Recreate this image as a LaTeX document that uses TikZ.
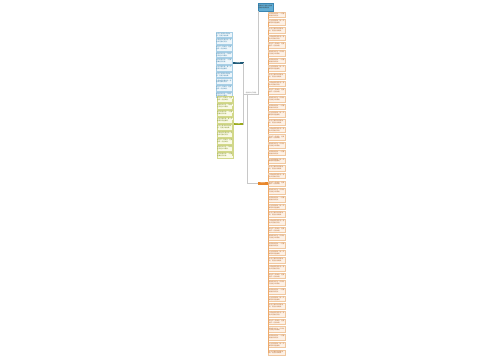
\documentclass[tikz,border=0pt]{standalone}
\usepackage{fontspec}
\newfontfamily\cjk{Noto Sans CJK SC}
\XeTeXlinebreaklocale "zh"
\XeTeXlinebreakskip=0pt plus 0.2pt
\definecolor{rootfill}{HTML}{62ADD4}
\definecolor{rootdraw}{HTML}{3A86B2}
\definecolor{bnode}{HTML}{1F5A78}
\definecolor{bfill}{HTML}{EEF6FB}
\definecolor{bdraw}{HTML}{A8CFE6}
\definecolor{btext}{HTML}{3B7EA6}
\definecolor{gnode}{HTML}{9AAA1A}
\definecolor{gfill}{HTML}{FAFAE6}
\definecolor{gdraw}{HTML}{D2D88A}
\definecolor{gtext}{HTML}{7A8A20}
\definecolor{onode}{HTML}{E8862A}
\definecolor{ofill}{HTML}{FDF1E6}
\definecolor{odraw}{HTML}{F0C8A0}
\definecolor{otext}{HTML}{B8682A}
\definecolor{link}{HTML}{C8C8C8}
\newcommand{\lt}[1]{\ifcase#1 人生没有彩排，每一天都是现场直播啊。\or 生活不是等待风暴过去，而是学会跳舞。\or 心若向阳无畏悲伤，愿你岁月静好安然。\or 努力不一定成功，但是放弃一定会失败。\or 愿你走出半生，归来时仍然是少年模样。\or 时间会告诉你，一切都是最好的安排。\fi}
\begin{document}
\begin{tikzpicture}[x=1pt,y=-1pt,
  every node/.style={font=\cjk\fontsize{1.5}{1.9}\selectfont, inner sep=0.5pt, outer sep=0pt},
  leaf/.style={draw, line width=0.25pt, text width=15.5pt, minimum height=5.6pt, align=left},
  bleaf/.style={leaf, fill=bfill, draw=bdraw, text=btext, anchor=east},
  gleaf/.style={leaf, fill=gfill, draw=gdraw, text=gtext, anchor=east, text width=15pt},
  oleaf/.style={leaf, fill=ofill, draw=odraw, text=otext, anchor=west},
  bar/.style={minimum height=2.2pt, inner sep=0.3pt, text=white, font=\cjk\fontsize{1.2}{1.4}\selectfont},
  blink/.style={draw=bdraw, line width=0.35pt},
  glink/.style={draw=gdraw, line width=0.35pt},
  olink/.style={draw=onode!70, line width=0.6pt},
  mlink/.style={draw=link, line width=0.3pt}]
\useasboundingbox (0,0) rectangle (500,360);
% root
\node[draw=rootdraw, fill=rootfill, line width=0.3pt, text width=14pt, align=left, minimum height=8pt, text=black!80] (root) at (265.5,7) {经典句子语录大全精选摘抄经典语录};
% center
\node[text=black!55, minimum width=13pt, inner sep=0.4pt] (c) at (251,92.6) {经典的句子精选};
\draw[mlink] (c.south west) -- (c.south east);
% branch nodes
\node[bar, fill=bnode, minimum width=11pt] (bn) at (238,63) {经典语录};
\node[bar, fill=gnode, minimum width=11pt] (gn) at (238,124) {句子摘抄};
\node[bar, fill=onode, minimum width=10pt] (on) at (263,183.5) {精选句子};
% main links
\draw[mlink] (c.south east) -| ([xshift=0.6pt]root.south west);
\draw[mlink] (c.south west) -- ++(-1.2,0) |- (bn.east);
\draw[mlink] (c.south west) -- ++(-1.2,0) |- (gn.east);
\draw[mlink] ([xshift=3pt]c.south west) |- (on.west);
% blue leaves
\foreach \i in {1,...,10}{
  \pgfmathtruncatemacro\k{mod(\i,6)}
  \node[bleaf] (b\i) at (232.3,{34.5+(\i-1)*6.7}) {\lt{\k}};
  \draw[blink] (bn.west) -- ++(0,0) |- (b\i.east);
}
% green leaves
\foreach \i in {1,...,9}{
  \pgfmathtruncatemacro\k{mod(\i+2,6)}
  \node[gleaf] (g\i) at (232.8,{99+(\i-1)*7}) {\lt{\k}};
  \draw[glink] (gn.west) -- ++(0,0) |- (g\i.east);
}
% orange leaves
\foreach \i in {1,...,45}{
  \pgfmathtruncatemacro\k{mod(\i+4,6)}
  \node[oleaf] (o\i) at (268.6,{14.5+(\i-1)*7.68}) {\lt{\k}};
  \draw[olink] (on.east) -- ++(0,0) |- (o\i.west);
}
\end{tikzpicture}
\end{document}
